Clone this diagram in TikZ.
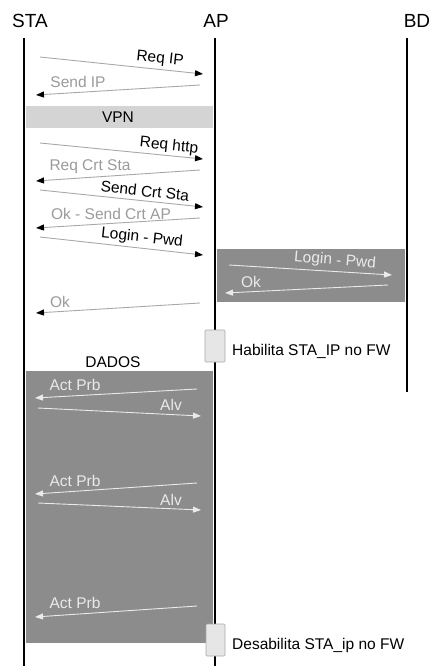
\documentclass[tikz,border=0pt]{standalone}
\usepackage{fontspec}
\setmainfont{Liberation Sans}
\usetikzlibrary{arrows.meta}
\definecolor{msggray}{HTML}{A8A8A8}
\definecolor{lblgray}{HTML}{9A9A9A}
\definecolor{bandlight}{HTML}{D4D4D4}
\definecolor{banddark}{HTML}{8C8C8C}
\definecolor{inband}{HTML}{EAEAEA}
\definecolor{boxfill}{HTML}{E6E6E6}
\begin{document}
\begin{tikzpicture}[x=1pt,y=-1pt,
  lifeline/.style={line width=2pt,black},
  header/.style={font=\fontsize{19}{22}\selectfont,inner sep=0pt},
  lbl/.style={font=\fontsize{15.5}{18}\selectfont,inner sep=0pt},
  msg/.style={draw=msggray,line width=0.9pt,-{Triangle[length=8pt,width=6pt,color=black]}},
  bandmsg/.style={draw=inband,line width=0.9pt,-{Triangle[length=8pt,width=6pt,color=inband]}},
  actbox/.style={draw=msggray,fill=boxfill,rounded corners=1pt,line width=0.6pt}]
\useasboundingbox (0,0) rectangle (431,666);
% bands
\fill[bandlight] (26,106) rectangle (213,128);
\node[lbl] (vpn) at (118,117) {VPN};
\fill[banddark] (217,249) rectangle (405,302);
\fill[banddark] (26,371) rectangle (213,643);
% headers
\node[header] (sta) at (30,21) {STA};
\node[header] (ap) at (216,21) {AP};
\node[header] (bd) at (417,21) {BD};
% lifelines
\coordinate (staT) at (24,38); \coordinate (staB) at (24,666);
\coordinate (apT) at (215,38); \coordinate (apB) at (215,666);
\coordinate (bdT) at (407,38); \coordinate (bdB) at (407,392);
\draw[lifeline] (staT) -- (staB);
\draw[lifeline] (apT) -- (apB);
\draw[lifeline] (bdT) -- (bdB);
% messages
\coordinate (m1a) at (40,57);  \coordinate (m1b) at (203,74);
\coordinate (m2a) at (200,85); \coordinate (m2b) at (36,95);
\coordinate (m3a) at (40,143); \coordinate (m3b) at (203,159);
\coordinate (m4a) at (200,170); \coordinate (m4b) at (36,181);
\coordinate (m5a) at (40,190); \coordinate (m5b) at (203,207);
\coordinate (m6a) at (200,218); \coordinate (m6b) at (36,228);
\coordinate (m7a) at (40,237); \coordinate (m7b) at (203,255);
\coordinate (m8a) at (229,265); \coordinate (m8b) at (392,275);
\coordinate (m9a) at (388,285); \coordinate (m9b) at (225,293);
\coordinate (m10a) at (200,303); \coordinate (m10b) at (36,313);
\coordinate (m11a) at (197,389); \coordinate (m11b) at (35,398);
\coordinate (m12a) at (38,408); \coordinate (m12b) at (201,416);
\coordinate (m13a) at (197,483); \coordinate (m13b) at (35,494);
\coordinate (m14a) at (38,503); \coordinate (m14b) at (201,510);
\coordinate (m15a) at (197,606); \coordinate (m15b) at (35,617);
\draw[msg] (m1a) -- (m1b);
\draw[msg] (m2a) -- (m2b);
\draw[msg] (m3a) -- (m3b);
\draw[msg] (m4a) -- (m4b);
\draw[msg] (m5a) -- (m5b);
\draw[msg] (m6a) -- (m6b);
\draw[msg] (m7a) -- (m7b);
\draw[bandmsg] (m8a) -- (m8b);
\draw[bandmsg] (m9a) -- (m9b);
\draw[msg] (m10a) -- (m10b);
\draw[bandmsg] (m11a) -- (m11b);
\draw[bandmsg] (m12a) -- (m12b);
\draw[bandmsg] (m13a) -- (m13b);
\draw[bandmsg] (m14a) -- (m14b);
\draw[bandmsg] (m15a) -- (m15b);
% labels
\node[lbl,rotate=-6] (l1) at (160,59) {Req IP};
\node[lbl,lblgray] (l2) at (78,82) {Send IP};
\node[lbl,rotate=-6] (l3) at (169,146) {Req http};
\node[lbl,lblgray] (l4) at (90,167) {Req Crt Sta};
\node[lbl,rotate=-6] (l5) at (145,191) {Send Crt Sta};
\node[lbl,lblgray] (l6) at (111,214) {Ok - Send Crt AP};
\node[lbl,rotate=-6] (l7) at (142,238) {Login - Pwd};
\node[lbl,inband,rotate=-5] (l8) at (335,261) {Login - Pwd};
\node[lbl,inband] (l9) at (251,282) {Ok};
\node[lbl,lblgray] (l10) at (60,302) {Ok};
\node[lbl] (dados) at (113,362) {DADOS};
\node[lbl,inband] (l11) at (75,385) {Act Prb};
\node[lbl,inband] (l12) at (171,405) {Alv};
\node[lbl,inband] (l13) at (75,481) {Act Prb};
\node[lbl,inband] (l14) at (171,500) {Alv};
\node[lbl,inband] (l15) at (75,603) {Act Prb};
% activation boxes
\draw[actbox] (205,330) rectangle (225,362);
\node[lbl,anchor=west] (hab) at (232,351) {Habilita STA\_IP no FW};
\draw[actbox] (206,624) rectangle (225,656);
\node[lbl,anchor=west] (des) at (232,645) {Desabilita STA\_ip no FW};
\end{tikzpicture}
\end{document}
